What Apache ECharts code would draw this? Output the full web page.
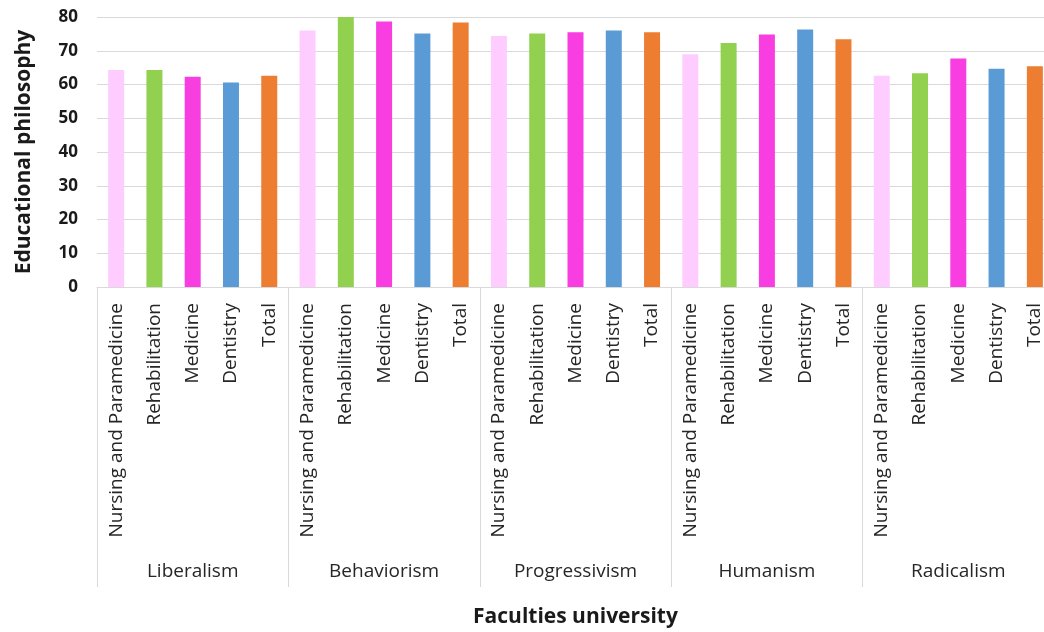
<!DOCTYPE html>
<html>
<head>
<meta charset="utf-8">
<script src="https://cdn.jsdelivr.net/npm/echarts@6/dist/echarts.min.js"></script>
<style>html,body{margin:0;padding:0;background:#fff}#c{width:1044px;height:632px}</style>
</head>
<body>
<div id="c"></div>
<script>
const groups = ['Liberalism', 'Behaviorism', 'Progressivism', 'Humanism', 'Radicalism'];
const faculties = ['Nursing and Paramedicine', 'Rehabilitation', 'Medicine', 'Dentistry', 'Total'];
const colors = ['#FFCCFF', '#92D050', '#F83EE0', '#5B9BD5', '#ED7D31'];
const liberalism    = [64.3, 64.3, 62.3, 60.6, 62.6];
const behaviorism   = [76.0, 80.0, 78.7, 75.1, 78.4];
const progressivism = [74.4, 75.1, 75.5, 76.0, 75.5];
const humanism      = [69.0, 72.3, 74.8, 76.3, 73.4];
const radicalism    = [62.6, 63.3, 67.7, 64.7, 65.4];
const yTicks = [0, 10, 20, 30, 40, 50, 60, 70, 80];

const groupValues = [liberalism, behaviorism, progressivism, humanism, radicalism];
const cats = [];
const vals = [];
groupValues.forEach((g, gi) => {
  g.forEach((v, fi) => {
    cats.push(faculties[fi]);
    vals.push({ value: v, itemStyle: { color: colors[fi] } });
  });
});

const font = 'Open Sans';
const chart = echarts.init(document.getElementById('c'));
chart.setOption({
  animation: false,
  grid: { left: 97, top: 17, width: 957, height: 270, outerBoundsMode: 'none', containLabel: false },
  xAxis: [
    {
      type: 'category',
      data: cats,
      axisLine: { lineStyle: { color: '#d9d9d9', width: 1 } },
      axisTick: { show: true, length: 300, interval: (i) => i % 5 === 0, lineStyle: { color: '#d9d9d9' } },
      axisLabel: { rotate: 90, interval: 0, margin: 16, fontFamily: font, fontSize: 19, color: '#262626' },
      name: 'Faculties university',
      nameLocation: 'middle',
      nameGap: 320,
      nameTextStyle: { fontFamily: font, fontSize: 21, fontWeight: 'bold', color: '#1a1a1a' }
    },
    {
      type: 'category',
      data: groups,
      position: 'bottom',
      axisLine: { show: false },
      axisTick: { show: false },
      axisLabel: { interval: 0, margin: 275, fontFamily: font, fontSize: 19, color: '#262626' }
    }
  ],
  yAxis: {
    type: 'value',
    min: yTicks[0],
    max: yTicks[yTicks.length - 1],
    interval: 10,
    axisLine: { show: false },
    axisTick: { show: false },
    splitLine: { lineStyle: { color: '#d9d9d9', width: 1 } },
    axisLabel: { margin: 19, fontFamily: font, fontSize: 17, fontWeight: 'bold', color: '#1a1a1a' },
    name: 'Educational philosophy',
    nameLocation: 'middle',
    nameRotate: 90,
    nameGap: 62,
    nameTextStyle: { fontFamily: font, fontSize: 21, fontWeight: 'bold', color: '#1a1a1a' }
  },
  series: [{
    type: 'bar',
    xAxisIndex: 0,
    data: vals,
    barWidth: 16
  }]
});
</script>
</body>
</html>
